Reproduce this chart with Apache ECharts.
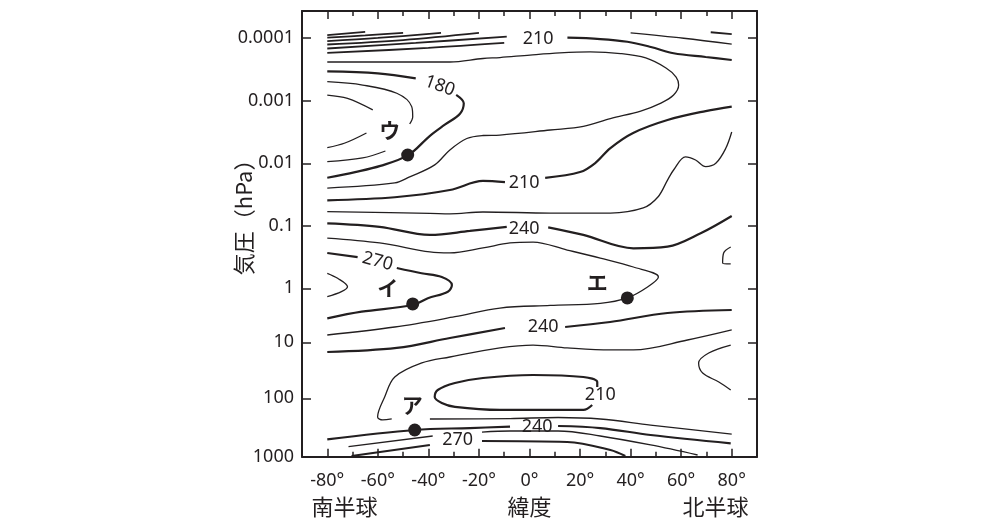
<!DOCTYPE html>
<html><head><meta charset="utf-8">
<script src="https://cdn.jsdelivr.net/npm/echarts@6/dist/echarts.min.js"></script>
<style>html,body{margin:0;padding:0;background:#fff}#c{width:985px;height:525px}</style>
</head><body><div id="c"></div>
<script>
// ---------- axis definitions ----------
const pressureTicks = [1000, 100, 10, 1, 0.1, 0.01, 0.001, 0.0001];
const pressureTickLabels = ['1000', '100', '10', '1', '0.1', '0.01', '0.001', '0.0001'];
const latTicks = [-80, -60, -40, -20, 0, 20, 40, 60, 80];
const hemisphereLat = [-73.2, 73.6];
const hemisphereNames = ['南半球', '北半球'];

// ---------- contour data: [latitude (deg), pressure (hPa)] ----------
const T1 = [[-80, 9.1e-5], [-65, 8.1e-5]];
const T2 = [[-80, 1.0e-4], [-65, 9.2e-5], [-50, 8.4e-5]];
const T3 = [[-80, 1.13e-4], [-60, 1.01e-4], [-35, 8.4e-5]];
const T4 = [[-80, 1.28e-4], [-50, 1.09e-4], [-20, 8.4e-5]];
const T5 = [[-80, 1.48e-4], [-45, 1.21e-4], [-9, 9.6e-5]];
const T6 = [[-80, 1.74e-4], [-40, 1.45e-4], [-10, 1.21e-4]];
const C210top = [[15, 1.0e-4], [28, 1.05e-4], [38.7, 1.16e-4], [48, 1.40e-4], [57, 1.76e-4], [69.7, 2.02e-4], [80, 2.25e-4]];
const R1 = [[40, 8.4e-5], [61, 1.02e-4], [80, 1.26e-4]];
const R2 = [[71.7, 8.2e-5], [80, 8.8e-5]];
const Big = [[-80, 2.42e-4], [-51, 2.42e-4], [-31.5, 2.42e-4], [-18.4, 2.13e-4], [-11.7, 2.06e-4], [0.2, 1.88e-4], [12, 1.74e-4], [24, 1.68e-4], [36, 1.78e-4], [46, 2.09e-4], [54, 3.01e-4], [58, 4.18e-4], [59, 5.6e-4], [57, 8.05e-4], [52, 1.08e-3], [44, 1.45e-3], [32, 1.91e-3], [21.3, 2.56e-3], [8.2, 2.92e-3], [-11.7, 3.52e-3], [-18.4, 3.58e-3], [-24.8, 4.0e-3], [-31.5, 6.1e-3], [-37.5, 1.06e-2], [-47.4, 1.65e-2], [-53.3, 2.06e-2], [-80, 2.48e-2]];
const C180a = [[-80, 3.4e-4], [-60, 3.65e-4], [-45, 4.4e-4]];
const C180b = [[-29, 8.0e-4], [-26, 1.09e-3], [-27.5, 1.6e-3], [-33.5, 2.4e-3], [-39.5, 3.65e-3], [-48, 7.4e-3], [-59, 1.1e-2], [-69, 1.38e-2], [-80, 1.7e-2]];
const U1 = [[-80, 4.96e-4], [-66, 5.6e-4], [-52.5, 7.55e-4], [-46.6, 1.23e-3], [-46.2, 1.79e-3], [-47.4, 2.34e-3]];
const U2 = [[-80, 8.05e-4], [-72, 9.1e-4], [-62, 1.39e-3]];
const U3 = [[-80, 5.6e-3], [-73, 4.72e-3], [-64.5, 3.26e-3]];
const U4 = [[-80, 9.4e-3], [-66, 8.2e-3], [-57, 6.35e-3]];
const C210midA = [[-80, 3.89e-2], [-53.3, 3.48e-2], [-31.5, 2.67e-2], [-18.4, 1.91e-2], [-9.7, 1.99e-2]];
const C210midB = [[6.2, 1.71e-2], [20, 1.38e-2], [26, 9.9e-3], [32, 5.7e-3], [41, 3.26e-3], [54.6, 2.02e-3], [69.7, 1.45e-3], [80, 1.23e-3]];
const Wavy = [[-80, 5.91e-2], [-39.4, 6.27e-2], [-31.5, 6.4e-2], [-18.4, 5.98e-2], [8.2, 6.21e-2], [32, 6.21e-2], [45, 5.16e-2], [50.8, 3.45e-2], [54.6, 1.85e-2], [57, 1.28e-2], [61.7, 7.9e-3], [65.7, 8.85e-3], [69.7, 1.13e-2], [73.7, 1.0e-2], [77.6, 5.8e-3], [80, 3.15e-3]];
const C240upA = [[-80, 9.06e-2], [-59.3, 0.103], [-39.4, 0.139], [-23.6, 0.12], [-9, 0.103]];
const C240upB = [[7.4, 0.105], [21.3, 0.139], [41.1, 0.228], [54.6, 0.215], [67.7, 0.131], [80, 6.93e-2]];
const Econt = [[-80, 0.156], [-59.3, 0.187], [-39.4, 0.261], [-31.5, 0.271], [-18.4, 0.225], [-7.7, 0.187], [1.4, 0.181], [14.9, 0.243], [28, 0.327], [41.1, 0.455], [51, 0.659], [46.7, 0.953], [38.7, 1.51], [28, 1.91], [8.2, 2.08], [-11.7, 2.32], [-29.5, 3.36], [-53.3, 5.21], [-80, 7.32]];
const C270a = [[-80, 0.271], [-68, 0.315]];
const C270b = [[-52.5, 0.472], [-42.7, 0.574], [-34.7, 0.659], [-30.7, 0.885], [-32.3, 1.156], [-40.2, 1.53], [-46.2, 2.04], [-66.4, 2.71], [-80, 3.60]];
const SmallLeft = [[-80, 0.574], [-75.9, 0.691], [-72, 0.943], [-74.4, 1.156], [-80, 1.43]];
const C240lowA = [[-80, 14.9], [-52.5, 12.6], [-31.5, 8.32], [-9.7, 5.44]];
const C240lowB = [[14.1, 5.21], [31.9, 4.21], [54.6, 2.87], [80, 2.52]];
const Acont = [[80, 5.9], [62.5, 9.07], [41.1, 13.7], [32, 13.7], [14.9, 12.6], [1.4, 11.2], [-11.7, 12.6], [-31.5, 18.3], [-42.6, 23.4], [-53.3, 41.7], [-57.3, 94.8], [-60.1, 209], [-58.1, 235], [-54.5, 226]];
const Acont2 = [[-39.4, 226], [-7.7, 222], [11.3, 213], [28, 226], [47.9, 287], [80, 409]];
const C210low = [[26.8, 62.8], [26.8, 51.2], [21.3, 41.7], [1.4, 38.4], [-18.4, 43.4], [-29.5, 53.3], [-36.3, 71.1], [-37.5, 94.8], [-34.7, 120], [-29.5, 140], [-11.7, 158], [21.3, 158], [24.8, 130]];
const C240botA = [[-80, 504], [-45.4, 349], [-23.6, 323], [-7.7, 306]];
const C240botB = [[11.3, 298], [28, 323], [47.9, 425], [79.6, 590]];
const Bot3a = [[-71.6, 674], [-38.3, 442]];
const Bot3b = [[-18.8, 378], [-7.7, 363], [11.3, 363], [28, 442], [47.9, 630], [66.5, 935]];
const C270botA = [[-70.4, 973], [-39.4, 630]];
const C270botB = [[-18.8, 538], [14.9, 560], [32, 767], [37.9, 973]];
const RightSmall = [[79.6, 0.217], [76.8, 0.271], [76.4, 0.392], [79.6, 0.406]];
const RightLoop = [[79.6, 11.2], [70.9, 15.5], [66.9, 23.4], [68.5, 35.3], [74.9, 51.2], [79.6, 71.1]];

// ---------- points and labels ----------
const dotLat = [-48.2, -46.2, 38.7, -45.4];
const dotP = [7.36e-3, 1.95, 1.51, 349];
const kanaText = ['ウ', 'イ', 'エ', 'ア'];
const kanaLat = [-55.3, -56.1, 26.8, -46.4];
const kanaP = [2.92e-3, 1.0, 0.792, 130];
const valueText = ['180', '210', '210', '240', '270', '240', '210', '240', '270'];
const valueLat = [-35.5, 3.4, -2.1, -2.1, -60.1, 5.4, 28, 3, -28.4];
const valueP = [5.8e-4, 1.03e-4, 2.04e-2, 0.112, 0.371, 5.1, 87.3, 310, 518];

// ---------- vertical scale of the original diagram ----------
const tickHeights = [0, 58.4, 114.4, 168.4, 230.7, 293.4, 355.7, 419.0];
const zTop = 445.7;
const logTicks = pressureTicks.map(Math.log10);
function toZ(p) {
  const l = Math.log10(p);
  let i = 0;
  while (i < logTicks.length - 2 && l < logTicks[i + 1]) i++;
  return tickHeights[i] + (logTicks[i] - l) * (tickHeights[i + 1] - tickHeights[i]) / (logTicks[i] - logTicks[i + 1]);
}

const INK = '#231f20';
const CLEAR = 'rgba(0,0,0,0)';
const THICK = 2.2, THIN = 1.3;
const contours = [
  [T1, 1.8], [T2, 1.8], [T3, 1.8], [T4, 1.8], [T5, 1.8], [T6, 1.8], [C210top, THICK], [R1, THIN], [R2, 1.8],
  [Big, THIN], [C180a, THICK], [C180b, THICK], [U1, THIN], [U2, THIN], [U3, THIN], [U4, THIN],
  [C210midA, THICK], [C210midB, THICK], [Wavy, THIN], [C240upA, THICK], [C240upB, THICK],
  [Econt, THIN], [C270a, THICK], [C270b, THICK], [SmallLeft, THIN], [C240lowA, THICK], [C240lowB, THICK],
  [Acont, THIN], [Acont2, THIN], [C210low, THICK], [C240botA, THICK], [C240botB, THICK],
  [Bot3a, THIN], [Bot3b, THIN], [C270botA, THICK], [C270botB, THICK], [RightSmall, THIN], [RightLoop, THIN]
];
const labelRotate = { 0: -20, 4: -15 };

const series = contours.map(([pts, w]) => ({
  type: 'line', data: pts.map(([la, p]) => [la, toZ(p)]),
  showSymbol: false, symbol: 'none', smooth: 0.35, silent: true,
  lineStyle: { color: INK, width: w }, z: 2
}));
series.push({
  type: 'scatter', symbolSize: 13, itemStyle: { color: INK, opacity: 1 }, z: 4, silent: true,
  data: dotLat.map((la, i) => [la, toZ(dotP[i])])
});
series.push({
  type: 'scatter', symbolSize: 2, itemStyle: { color: CLEAR, opacity: 1 }, z: 5, silent: true,
  label: { show: true, position: 'inside', formatter: '{b}', color: INK, opacity: 1, fontSize: 21, fontWeight: 'bold', fontFamily: 'Noto Sans CJK JP' },
  data: kanaText.map((t, i) => ({ name: t, value: [kanaLat[i], toZ(kanaP[i])] }))
});
series.push({
  type: 'scatter', symbolSize: 2, itemStyle: { color: CLEAR, opacity: 1 }, z: 5, silent: true,
  label: { show: true, position: 'inside', formatter: '{b}', color: INK, opacity: 1, fontSize: 18, fontFamily: 'Noto Sans' },
  data: valueText.map((t, i) => ({ name: t, value: [valueLat[i], toZ(valueP[i])], label: { rotate: labelRotate[i] || 0 } }))
});

const axisLineStyle = { color: INK, width: 2 };
const tickStyle = { color: INK, width: 1.5 };
const chart = echarts.init(document.getElementById('c'), null, { renderer: 'canvas' });
chart.setOption({
  animation: false,
  grid: { left: 302, right: 228, top: 11, bottom: 68.3, containLabel: false },
  xAxis: [
    { type: 'value', min: -90, max: 90, interval: 10, position: 'bottom',
      axisLine: { show: true, onZero: false, lineStyle: axisLineStyle },
      axisTick: { show: true, inside: true, length: 5, lineStyle: tickStyle },
      axisLabel: { customValues: latTicks, formatter: v => v + '°', margin: 15, fontSize: 18, color: INK, fontFamily: 'Noto Sans' },
      splitLine: { show: false },
      name: '緯度', nameLocation: 'middle', nameGap: 39, nameMoveOverlap: false,
      nameTextStyle: { fontSize: 22, color: INK, fontFamily: 'Noto Sans CJK JP' } },
    { type: 'value', min: -90, max: 90, interval: 10, position: 'top',
      axisLine: { show: true, onZero: false, lineStyle: axisLineStyle },
      axisTick: { show: true, inside: true, length: 5, lineStyle: tickStyle },
      axisLabel: { show: false }, splitLine: { show: false } },
    { type: 'value', min: -90, max: 90, interval: 10, position: 'bottom',
      axisLine: { show: false, onZero: false },
      axisTick: { show: true, inside: true, length: 8, customValues: latTicks, lineStyle: tickStyle },
      axisLabel: { show: false }, splitLine: { show: false } },
    { type: 'value', min: -90, max: 90, interval: 10, position: 'top',
      axisLine: { show: false, onZero: false },
      axisTick: { show: true, inside: true, length: 8, customValues: latTicks, lineStyle: tickStyle },
      axisLabel: { show: false }, splitLine: { show: false } },
    { type: 'value', min: -90, max: 90, interval: 10, position: 'bottom',
      axisLine: { show: false, onZero: false }, axisTick: { show: false },
      axisLabel: { customValues: hemisphereLat, formatter: v => hemisphereNames[v < 0 ? 0 : 1], margin: 39, fontSize: 22, color: INK, fontFamily: 'Noto Sans CJK JP' },
      splitLine: { show: false } }
  ],
  yAxis: [
    { type: 'value', min: 0, max: zTop, position: 'left',
      axisLine: { show: true, onZero: false, lineStyle: axisLineStyle },
      axisTick: { show: true, inside: true, length: 9, customValues: tickHeights, lineStyle: tickStyle },
      axisLabel: { customValues: tickHeights, formatter: v => pressureTickLabels[tickHeights.findIndex(h => Math.abs(h - v) < 0.01)], margin: 8, fontSize: 18, color: INK, fontFamily: 'Noto Sans' },
      splitLine: { show: false },
      name: '気圧（hPa）', nameLocation: 'middle', nameRotate: 90, nameGap: 47, nameMoveOverlap: false,
      nameTextStyle: { fontSize: 22, color: INK, fontFamily: 'Noto Sans CJK JP', padding: [0, 0, 0, 44] } },
    { type: 'value', min: 0, max: zTop, position: 'right',
      axisLine: { show: true, onZero: false, lineStyle: axisLineStyle },
      axisTick: { show: true, inside: true, length: 9, customValues: tickHeights, lineStyle: tickStyle },
      axisLabel: { show: false }, splitLine: { show: false } }
  ],
  series
});
</script></body></html>
